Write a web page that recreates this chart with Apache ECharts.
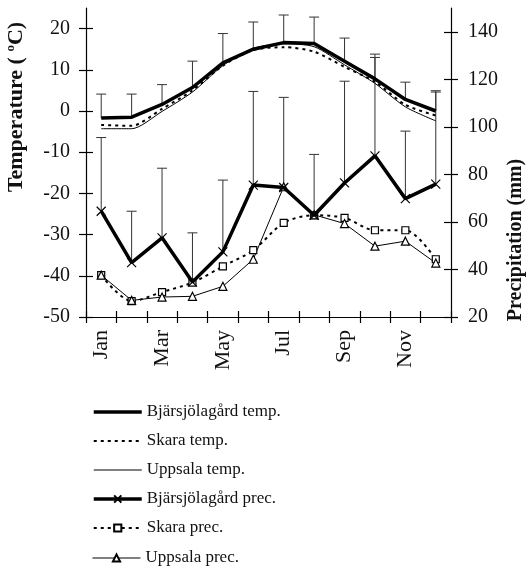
<!DOCTYPE html>
<html><head><meta charset="utf-8">
<script src="https://cdn.jsdelivr.net/npm/echarts@6/dist/echarts.min.js"></script>
<style>html,body{margin:0;padding:0;background:#fff}#c{width:526px;height:566px}</style>
</head><body><div id="c"></div>
<script>
const months = ['Jan','Feb','Mar','Apr','May','Jun','Jul','Aug','Sep','Oct','Nov','Dec'];
const tempTicks = [-50,-40,-30,-20,-10,0,10,20];
const precTicks = [20,40,60,80,100,120,140];
const bjTemp = [-1.7, -1.5, 1.6, 5.7, 11.7, 15.0, 16.6, 16.4, 12.1, 7.8, 2.8, 0.0];
const skTemp = [-3.4, -3.6, 0.5, 5.0, 11.0, 14.8, 15.5, 14.4, 10.7, 7.1, 1.5, -1.1];
const upTemp = [-4.3, -4.3, -0.1, 4.6, 11.0, 15.2, 16.3, 15.6, 11.2, 6.7, 1.0, -2.4];
const bjTempErrTop = [4.1, 4.1, 6.4, 12.1, 18.8, 21.6, 23.3, 22.8, 17.7, 13.0, 7.0, 4.6];
const bjPrec = [64.5, 42.9, 53.3, 34.7, 47.4, 75.5, 74.5, 62.8, 76.4, 87.8, 69.8, 75.9];
const skPrec = [37.6, 26.7, 30.5, 34.5, 41.3, 48.1, 59.6, 62.8, 61.7, 56.5, 56.5, 44.3];
const upPrec = [37.6, 27.0, 28.4, 28.7, 32.9, 44.3, 74.8, 63.0, 59.3, 49.8, 51.9, 42.7];
const bjPrecErrTop = [95.5, 64.5, 82.6, 55.4, 77.6, 114.9, 112.4, 88.4, 119.2, 130.6, 98.2, 115.2];
const legendNames = ['Bjärsjölagård temp.', 'Skara temp.', 'Uppsala temp.', 'Bjärsjölagård prec.', 'Skara prec.', 'Uppsala prec.'];

const FONT = 'Liberation Serif';
const lineWidths = [3.5, 2, 1, 3.5, 2, 1];
const chart = echarts.init(document.getElementById('c'));

function errSeries(vals, tops, yIdx) {
  return {
    type: 'custom', yAxisIndex: yIdx, silent: true, z: 1,
    data: vals.map((v, i) => [i, v, tops[i]]),
    renderItem: (params, api) => {
      const p0 = api.coord([api.value(0), api.value(1)]);
      const p1 = api.coord([api.value(0), api.value(2)]);
      const w = 5;
      return { type: 'group', children: [
        { type: 'line', shape: { x1: p0[0], y1: p0[1], x2: p1[0], y2: p1[1] }, style: { stroke: '#333', lineWidth: 1 } },
        { type: 'line', shape: { x1: p1[0] - w, y1: p1[1], x2: p1[0] + w, y2: p1[1] }, style: { stroke: '#333', lineWidth: 1 } }
      ]};
    }
  };
}

const axisLineStyle = { show: true, onZero: false, lineStyle: { color: '#000', width: 1.2 } };
const tickLine = { color: '#000', width: 1.2 };

function legendPart(names, offsetIdx, top) {
  return {
    orient: 'vertical', left: 92, top: top, padding: 0, itemWidth: 48, itemHeight: 9, itemGap: 12,
    textStyle: { fontFamily: FONT, fontSize: 17, color: '#111' },
    data: names.map((n, i) => {
      const k = offsetIdx + i;
      const item = { name: n, lineStyle: { width: lineWidths[k] } };
      if (k < 3) item.itemStyle = { opacity: 0 };
      return item;
    })
  };
}

chart.setOption({
  animation: false,
  backgroundColor: '#fff',
  grid: { left: 86, right: 75, top: 8, bottom: 249, containLabel: false },
  xAxis: [
    { type: 'category', data: months, position: 'bottom', boundaryGap: true,
      axisLine: axisLineStyle,
      axisTick: { show: true, interval: 0, length: 6, lineStyle: tickLine },
      axisLabel: { rotate: 90, interval: 1, margin: 13, fontFamily: FONT, fontSize: 22, color: '#111' },
      splitLine: { show: false } },
    { type: 'category', data: months, position: 'bottom', offset: 0, boundaryGap: true,
      axisLine: { show: false, onZero: false },
      axisTick: { show: true, inside: true, interval: 0, length: 6, lineStyle: tickLine },
      axisLabel: { show: false }, splitLine: { show: false } }
  ],
  yAxis: [
    { type: 'value', position: 'left', min: -50, max: 25, interval: 10,
      axisLine: axisLineStyle,
      axisTick: { show: true, length: 7, customValues: tempTicks, lineStyle: tickLine },
      axisLabel: { margin: 16, customValues: tempTicks, fontFamily: FONT, fontSize: 20, color: '#111' },
      splitLine: { show: false } },
    { type: 'value', position: 'right', min: 20, max: 150, interval: 20,
      axisLine: axisLineStyle,
      axisTick: { show: true, length: 7, customValues: precTicks, lineStyle: tickLine },
      axisLabel: { margin: 17, customValues: precTicks, fontFamily: FONT, fontSize: 20, color: '#111' },
      splitLine: { show: false } },
    { type: 'value', position: 'left', offset: 0, min: -50, max: 25, interval: 10,
      axisLine: { show: false, onZero: false },
      axisTick: { show: true, inside: true, length: 7, customValues: tempTicks, lineStyle: tickLine },
      axisLabel: { show: false }, splitLine: { show: false } },
    { type: 'value', position: 'right', offset: 0, min: 20, max: 150, interval: 20,
      axisLine: { show: false, onZero: false },
      axisTick: { show: true, inside: true, length: 7, customValues: precTicks, lineStyle: tickLine },
      axisLabel: { show: false }, splitLine: { show: false } }
  ],
  legend: [
    legendPart(legendNames.slice(0, 5), 0, 403.5),
    legendPart(legendNames.slice(5), 5, 549.5)
  ],
  graphic: [
    { type: 'text', x: 16, y: 107, rotation: Math.PI / 2,
      style: { text: '{n|Temperature ( }{s|o}{n|C)}', align: 'center', verticalAlign: 'middle',
        rich: { n: { fontFamily: FONT, fontSize: 22, fontWeight: 'bold', fill: '#111', lineHeight: 24 },
                s: { fontFamily: FONT, fontSize: 13, fontWeight: 'bold', fill: '#111', verticalAlign: 'top', lineHeight: 24 } } } },
    { type: 'text', x: 516, y: 240, rotation: Math.PI / 2,
      style: { text: 'Precipitation (mm)', align: 'center', verticalAlign: 'middle',
        fontFamily: FONT, fontSize: 20, fontWeight: 'bold', fill: '#111' } }
  ],
  series: [
    errSeries(bjTemp, bjTempErrTop, 0),
    errSeries(bjPrec, bjPrecErrTop, 1),
    { name: legendNames[0], type: 'line', yAxisIndex: 0, data: bjTemp, symbol: 'none', z: 5,
      lineStyle: { color: '#000', width: lineWidths[0] }, itemStyle: { color: '#000' } },
    { name: legendNames[1], type: 'line', yAxisIndex: 0, data: skTemp, symbol: 'none', smooth: 0.25, z: 4,
      lineStyle: { color: '#000', width: lineWidths[1], type: [3, 4] }, itemStyle: { color: '#000' } },
    { name: legendNames[2], type: 'line', yAxisIndex: 0, data: upTemp, symbol: 'none', smooth: 0.25, z: 4,
      lineStyle: { color: '#000', width: lineWidths[2] }, itemStyle: { color: '#000' } },
    { name: legendNames[3], type: 'line', yAxisIndex: 1, data: bjPrec, z: 5,
      symbol: 'path://M0,0L10,10M10,0L0,10', symbolSize: 9, showSymbol: true,
      lineStyle: { color: '#000', width: lineWidths[3] }, itemStyle: { color: 'none', borderColor: '#000', borderWidth: 1.2 } },
    { name: legendNames[4], type: 'line', yAxisIndex: 1, data: skPrec, z: 4, smooth: 0.3,
      symbol: 'rect', symbolSize: 7,
      lineStyle: { color: '#000', width: lineWidths[4], type: [3, 4] }, itemStyle: { color: '#fff', borderColor: '#000', borderWidth: 1.2 } },
    { name: legendNames[5], type: 'line', yAxisIndex: 1, data: upPrec, z: 4,
      symbol: 'triangle', symbolSize: 8,
      lineStyle: { color: '#000', width: lineWidths[5] }, itemStyle: { color: '#fff', borderColor: '#000', borderWidth: 1.2 } }
  ]
});
</script>
</body></html>
